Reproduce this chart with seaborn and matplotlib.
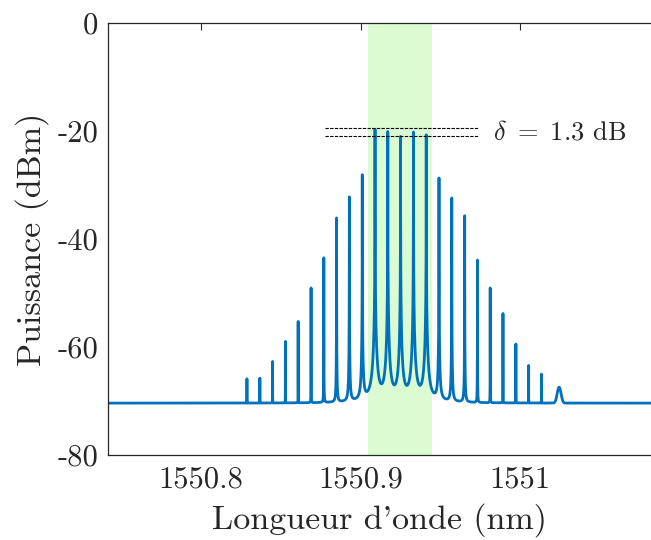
import numpy as np
import pandas as pd
import matplotlib
matplotlib.use('Agg')
import matplotlib.pyplot as plt
import seaborn as sns

# raies du peigne : position (nm) et puissance crete (dBm)
raies_nm = [1550.8288, 1550.8369, 1550.8449, 1550.8529, 1550.8609, 1550.8690,
            1550.8770, 1550.8850, 1550.8930, 1550.9011, 1550.9091, 1550.9171,
            1550.9251, 1550.9332, 1550.9412, 1550.9492, 1550.9572, 1550.9653,
            1550.9733, 1550.9813, 1550.9893, 1550.9974, 1551.0054, 1551.0134]
raies_dbm = [-67.8, -67.6, -63.5, -59.3, -55.4, -49.1,
             -43.5, -36.1, -32.2, -28.1, -19.7, -20.1,
             -21.0, -20.2, -20.7, -28.7, -32.4, -35.7,
             -43.9, -49.1, -53.9, -59.8, -64.4, -66.5]
plancher_dbm = -70.4
bosse_nm = 1551.0245
bosse_dbm = -68.3

zone_verte = (1550.905, 1550.945)
delta_niveaux = [-19.5, -21.0]
delta_x = (1550.878, 1550.974)
delta_texte = r'$\delta\ =\ 1.3$ dB'

xticks = [1550.8, 1550.9, 1551.0]
xtick_labels = ['1550.8', '1550.9', '1551']
yticks = [0, -20, -40, -60, -80]
ytick_labels = ['0', '-20', '-40', '-60', '-80']
xlim = (1550.7417, 1551.0821)
ylim = (-80, 0)


def spectre(x):
    # raies lorentziennes fines + pied plus large, sommees en mW
    p = np.full_like(x, 10 ** (plancher_dbm / 10))
    for x0, a in zip(raies_nm, raies_dbm):
        amp = 10 ** (a / 10)
        p += amp / (1 + ((x - x0) / 9e-6) ** 2)
        p += amp * 10 ** (-4.7) / (1 + ((x - x0) / 4e-4) ** 2)
    p += 10 ** (bosse_dbm / 10) * np.exp(-((x - bosse_nm) / 0.0015) ** 2) * 0.6
    return 10 * np.log10(p)


x = np.sort(np.concatenate([np.linspace(xlim[0], xlim[1], 60000), raies_nm]))
df = pd.DataFrame({'lambda': x, 'puissance': spectre(x)})

sns.set_style('white')
plt.rcParams['font.family'] = ['cmr10', 'DejaVu Serif']
plt.rcParams['mathtext.fontset'] = 'cm'
plt.rcParams['axes.unicode_minus'] = False

fig = plt.figure(figsize=(6.51, 5.40), dpi=100)
ax = fig.add_axes([108 / 651, 85 / 540, 1 - 108 / 651, 432 / 540])

ax.axvspan(*zone_verte, color='#dbfcd2', zorder=0, lw=0)
sns.lineplot(data=df, x='lambda', y='puissance', ax=ax, color='#0072BD',
             lw=2.0, estimator=None, sort=False, zorder=2)
ax.hlines(delta_niveaux, *delta_x, colors='black', lw=0.8,
          linestyles=(0, (3, 1.2)), zorder=3)
ax.text(1550.983, -20.3, delta_texte, fontsize=19, va='center', ha='left')

ax.set_xlim(*xlim)
ax.set_ylim(*ylim)
ax.set_xticks(xticks)
ax.set_xticklabels(xtick_labels)
ax.set_yticks(yticks)
ax.set_yticklabels(ytick_labels)
ax.tick_params(direction='in', length=5, width=0.8, colors='#262626',
               labelsize=22, top=True, pad=8)
ax.tick_params(axis='y', pad=7)
for s in ['left', 'top', 'bottom']:
    ax.spines[s].set_color('#262626')
    ax.spines[s].set_linewidth(0.9)
ax.spines['right'].set_visible(False)
ax.set_xlabel("Longueur d'onde (nm)", fontsize=24.5, labelpad=7, color='#262626')
ax.set_ylabel('Puissance (dBm)', fontsize=24.5, labelpad=6, color='#262626')

fig.savefig('out.png', dpi=100)
